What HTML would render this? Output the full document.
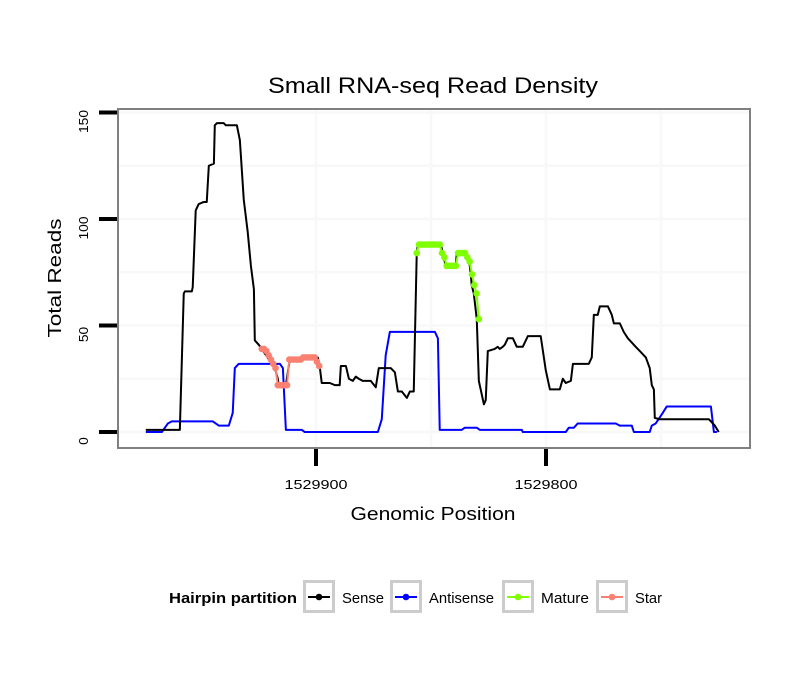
<!DOCTYPE html>
<html><head><meta charset="utf-8"><style>
html,body{margin:0;padding:0;background:#fff;}
svg{display:block;font-family:"Liberation Sans",sans-serif;}
</style></head><body>
<svg id="chart" width="810" height="690" viewBox="0 0 810 690" xmlns="http://www.w3.org/2000/svg">
<rect x="0" y="0" width="810" height="690" fill="#fff"/>
<text x="433" y="93" text-anchor="middle" font-size="22" textLength="330" lengthAdjust="spacingAndGlyphs" fill="#000">Small RNA-seq Read Density</text>
<g id="grid"></g>
<g id="series"></g>
<rect x="118" y="109" width="632" height="339" fill="none" stroke="#808080" stroke-width="2"/>
<g id="axes"></g>
<text x="433" y="520" text-anchor="middle" font-size="18" textLength="165" lengthAdjust="spacingAndGlyphs">Genomic Position</text>
<text transform="translate(61,278) rotate(-90)" text-anchor="middle" font-size="18" textLength="119" lengthAdjust="spacingAndGlyphs">Total Reads</text>
<g id="legend">
<text x="169" y="603" font-size="15" font-weight="bold" textLength="128" lengthAdjust="spacingAndGlyphs">Hairpin partition</text>
</g>
</svg>
<script>
// ---- data ----
const startPos = 1529974;
const senseOffsets = [0,14.8,16.5,17,20,20.4,21.7,23,25.2,26.5,27.4,29.6,30,30.9,33.9,34.8,39.6,40.9,42.6,44.3,45.7,47,47.4,49.1,50.4,56.1,57.4,57.8,60.9,62.6,74.8,75.7,76.5,80,82.2,84.3,84.8,87,88.3,90,91.3,92.6,94.3,97.8,100,101.3,106.5,108.3,109.6,111.3,113.5,114.8,116.5,117.8,118.3,128.3,129.1,130.4,134.8,135.2,139.1,140.4,141.3,141.7,142.6,143.9,144.8,147,147.8,148.7,151.7,153,153.9,155.2,156.1,157.4,159.6,161.3,162.6,163.9,166.1,171.7,173.9,175.7,180,181.3,182.6,184.8,185.7,192.6,193.9,194.8,196.5,197.4,200.9,202.6,203.5,206.1,207.8,209.6,211.3,213,214.8,217.4,219.1,220,220.9,221.3,223.5,224.8,244.8,247.4,249.1];
const senseValues = [1,1,65,66,66,68,104,107,108,108,125,126,144,145,145,144,144,137,109,94,78,67,43,41,39,30,25,22,22,34,35,30,23,23,22,22,31,31,25,24,26,25,24,24,21,30,30,28,19,19,16,19,19,84,88,88,84,78,78,84,84,82,74,69,65,53,24,13,15,38,39,40,39,40,41,44,44,40,40,40,45,45,29,20,20,25,23,24,32,32,35,55,55,59,59,55,51,51,47,44,42,40,38,35,30,22,20,6.6,6,6,6,3,0];
const antiOffsets = [0,7,9.6,11.3,29.1,31.7,36.1,37.8,38.7,40.4,58.3,59.6,60.9,67.8,69.1,100.9,102.6,104.3,106.1,125.7,127,127.8,137.4,138.7,143.9,145.2,163.5,163.9,182.6,183.9,186.1,187.8,204.3,206.1,211.3,212.2,219.1,220,221.7,224.8,226.5,245.7,247,248.3];
const antiValues = [0,0,4,5,5,3,3,9,30,32,32,30,1,1,0,0,6,36,47,47,44,1,1,2,2,1,1,0,0,2,2,4,4,3,3,0,0,3,4,9,12,12,0,0];
const starStart = 50.4;
const starValues = [39,39,38,36,34,32,30,22,22,22,22,22,34,34,34,34,34,34,35,35,35,35,35,35,33,31];
const matureStart = 117.8;
const matureValues = [84,88,88,88,88,88,88,88,88,88,88,84,82,78,78,78,78,78,84,84,84,84,82,80,74,69,65,53];
const yTicks = [0,50,100,150];
const yMinor = [25,75,125];
const xTicks = [1529900,1529800];
const xMinor = [1529850,1529750];
const legendLabels = ["Sense","Antisense","Mature","Star"];
const legendColors = ["#000000","#0000ff","#7fff00","#fa8072"];

// ---- scales ----
function xs(pos){ return 316 + (1529900 - pos) * 2.3; }
function ys(v){ return 432 - v * 2.13; }
const NS = "http://www.w3.org/2000/svg";
function mk(tag, attrs, parent){ const e=document.createElementNS(NS,tag); for(const k in attrs) e.setAttribute(k,attrs[k]); parent.appendChild(e); return e; }

const grid = document.getElementById('grid');
yMinor.concat(yTicks).forEach(v=>{
  const l = mk('line',{x1:118,x2:750,y1:ys(v),y2:ys(v),stroke:'#f8f8f8','stroke-width':2.5},grid);
  
  
});
xMinor.concat(xTicks).forEach(p=>{
  const l = mk('line',{x1:xs(p),x2:xs(p),y1:109,y2:448,stroke:'#f8f8f8','stroke-width':2.5},grid);
  
  
});

const series = document.getElementById('series');
function pts(offs, vals){ return offs.map((o,i)=>xs(startPos-o).toFixed(2)+','+ys(vals[i]).toFixed(2)).join(' '); }
const anti = mk('polyline',{points:pts(antiOffsets,antiValues),fill:'none',stroke:'#0000ff','stroke-width':2,'stroke-linejoin':'round'},series);


const sense = mk('polyline',{points:pts(senseOffsets,senseValues),fill:'none',stroke:'#000','stroke-width':2,'stroke-linejoin':'round'},series);


function drawPoints(start, vals, color, name){
  const offs = vals.map((v,i)=>start+i);
  const pl = mk('polyline',{points:pts(offs,vals),fill:'none',stroke:color,'stroke-width':2},series);
  
  
  vals.forEach((v,i)=>{
    const c = mk('circle',{cx:xs(startPos-offs[i]),cy:ys(v),r:3.3,fill:color},series);
    
    
  });
}
drawPoints(starStart, starValues, '#fa8072', 'star');
drawPoints(matureStart, matureValues, '#7fff00', 'mature');

const axes = document.getElementById('axes');
yTicks.forEach(v=>{
  const t = mk('line',{x1:99,x2:117,y1:ys(v),y2:ys(v),stroke:'#000','stroke-width':4},axes);
  
  
  const s = String(v);
  const tx = mk('text',{transform:`translate(88,${ys(v)+9}) rotate(-90)`,'text-anchor':'middle','font-size':13,textLength:s.length*7.7,lengthAdjust:'spacingAndGlyphs'},axes);
  tx.textContent = v;
  
  
});
xTicks.forEach(p=>{
  const t = mk('line',{x1:xs(p),x2:xs(p),y1:449,y2:466,stroke:'#000','stroke-width':4},axes);
  
  
  const tx = mk('text',{x:xs(p),y:489,'text-anchor':'middle','font-size':13,textLength:63,lengthAdjust:'spacingAndGlyphs'},axes);
  tx.textContent = p;
  
  
});

const legend = document.getElementById('legend');
const boxX = [303,390,502,596];
const labelLen = [42,65,48,27];
legendLabels.forEach((lab,i)=>{
  const bx = boxX[i];
  const r = mk('rect',{x:bx+1.5,y:581.5,width:29,height:30,fill:'#fff',stroke:'#cccccc','stroke-width':3},legend);
  
  
  const l = mk('line',{x1:bx+5,x2:bx+27,y1:597,y2:597,stroke:legendColors[i],'stroke-width':2},legend);
  
  
  const c = mk('circle',{cx:bx+16,cy:597,r:3.3,fill:legendColors[i]},legend);
  
  
  const t = mk('text',{x:bx+39,y:603,'font-size':15,textLength:labelLen[i],lengthAdjust:'spacingAndGlyphs'},legend);
  t.textContent = lab;
  
  
});
</script>
</body></html>
